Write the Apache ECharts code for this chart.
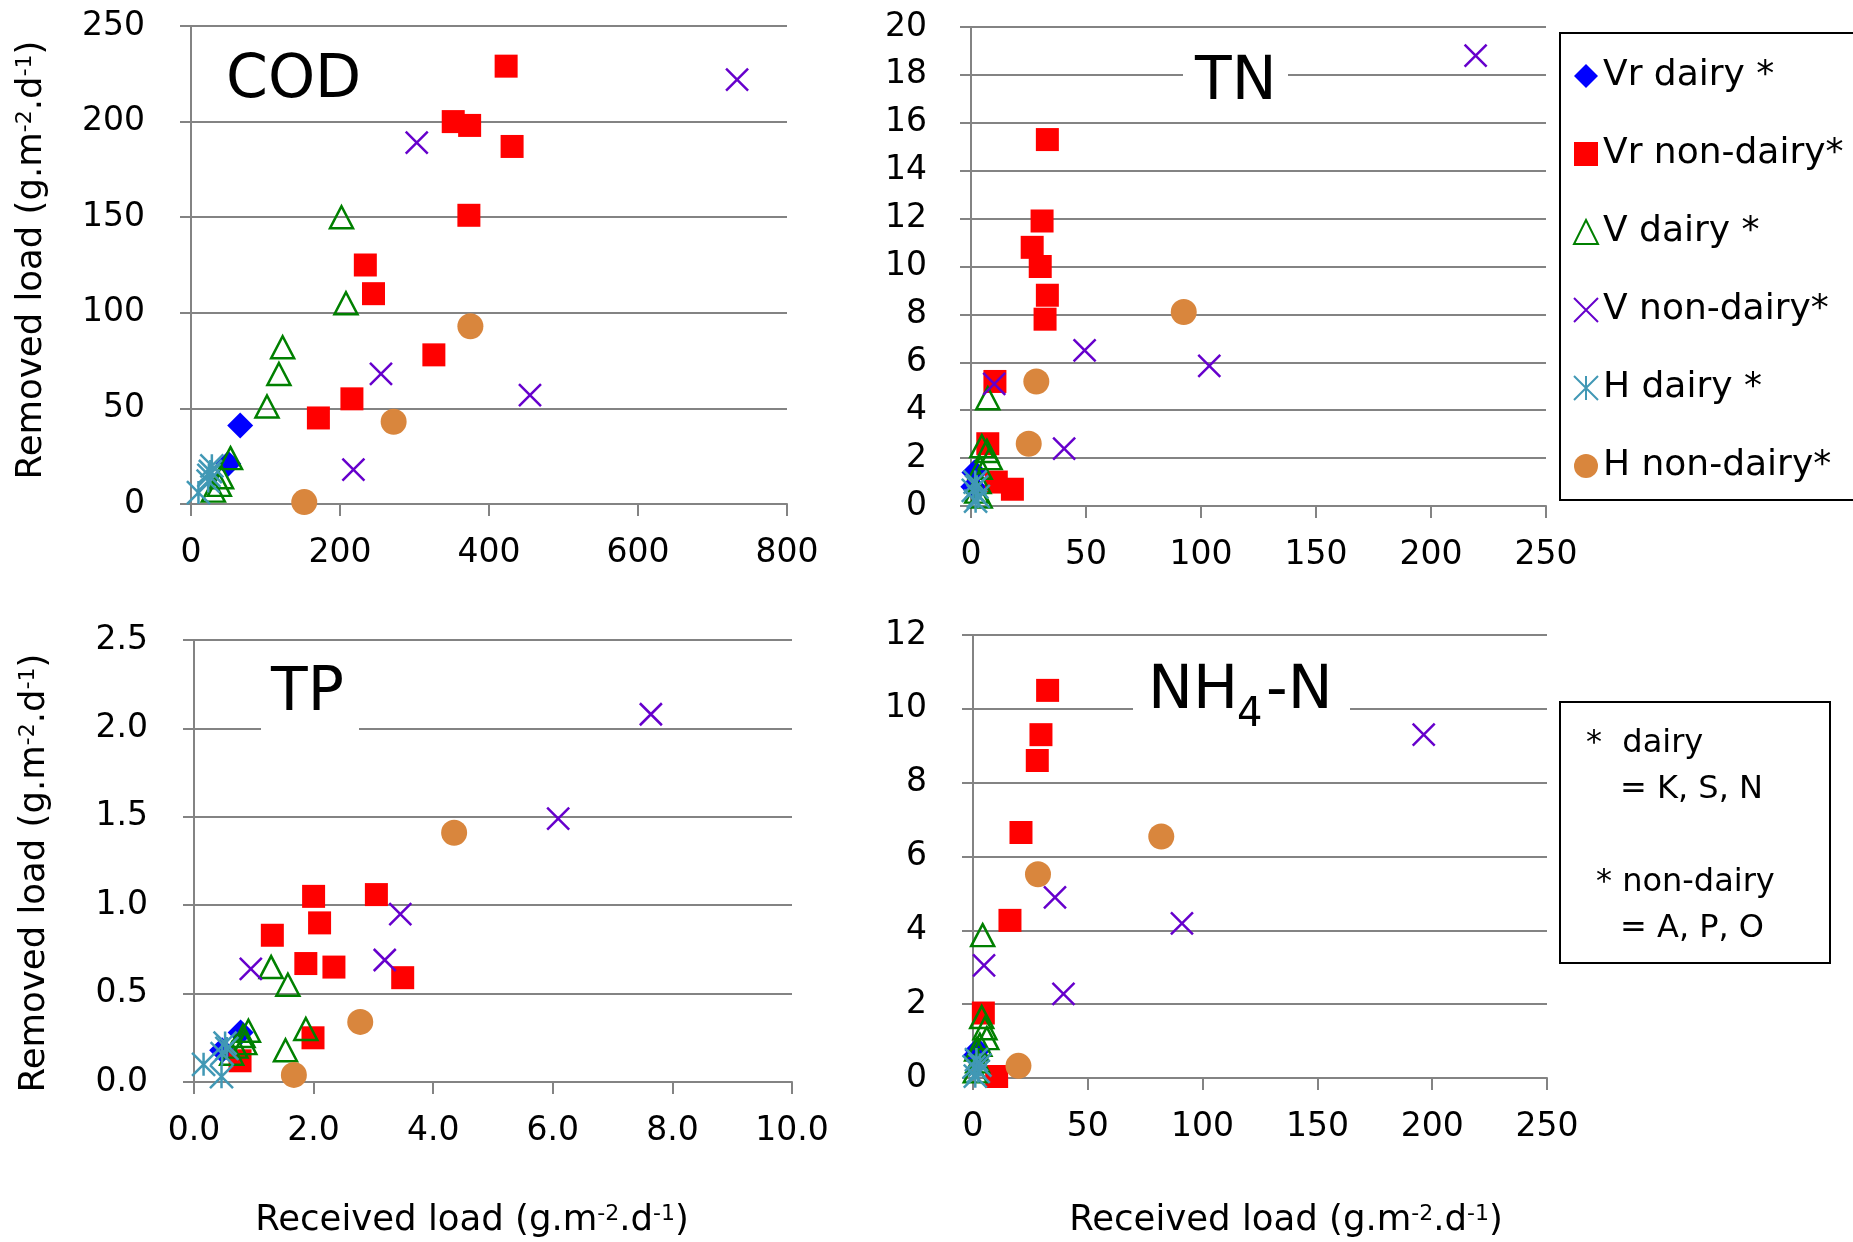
<!DOCTYPE html>
<html><head><meta charset="utf-8">
<script src="https://cdn.jsdelivr.net/npm/echarts@6/dist/echarts.min.js"></script>
<style>html,body{margin:0;padding:0;background:#fff}#c{width:1853px;height:1242px}</style>
</head><body><div id="c"></div>
<script>
// ---------- data ----------
const seriesNames = ['Vr dairy *', 'Vr non-dairy*', 'V dairy *', 'V non-dairy*', 'H dairy *', 'H non-dairy*'];

// COD
const codVrDairy = [[66,41],[50,21]];
const codVrNonDairy = [[423,229],[352,200],[374,198],[431,187],[373,151],[234,125],[245,110],[326,78],[216,55],[171,45]];
const codVDairy = [[202,150],[208,105],[123,82],[118,68],[102,51],[53,24],[41,14],[38,10],[30,7]];
const codVNonDairy = [[733,222],[303,189],[255,68],[455,57],[218,18]];
const codHDairy = [[10,6],[23,12],[24,15],[28,20],[26,17]];
const codHNonDairy = [[375,93],[272,43],[152,1]];

// TN
const tnVrDairy = [[1.5,1.4],[1,0.8]];
const tnVrNonDairy = [[33.2,15.3],[30.9,11.9],[26.6,10.8],[30.1,10],[33.2,8.8],[32.2,7.8],[10.4,5.2],[7.3,2.6],[11,1.0],[18,0.7]];
const tnVDairy = [[7.3,4.5],[4.7,2.5],[6.9,2.3],[8.3,2.0],[4,0.4],[3.5,1.0],[2.5,0.6],[4,1.6]];
const tnVNonDairy = [[219.4,18.8],[49.4,6.5],[103.6,5.85],[40.5,2.4],[10.1,5.1]];
const tnHDairy = [[1.8,1.0],[1,0.65],[2.5,0.8],[3.2,0.4],[2,0.2]];
const tnHNonDairy = [[92.5,8.1],[28.4,5.2],[25.1,2.6]];

// TP
const tpVrDairy = [[0.78,0.28],[0.47,0.18]];
const tpVrNonDairy = [[2.0,1.05],[3.05,1.06],[2.1,0.9],[1.31,0.83],[1.87,0.67],[2.34,0.65],[3.49,0.59],[1.99,0.25],[0.77,0.12]];
const tpVDairy = [[1.29,0.65],[1.57,0.55],[1.87,0.3],[1.53,0.18],[0.91,0.29],[0.82,0.26],[0.85,0.22],[0.63,0.16],[0.7,0.2]];
const tpVNonDairy = [[7.64,2.08],[6.09,1.49],[3.45,0.95],[3.19,0.69],[0.95,0.64]];
const tpHDairy = [[0.16,0.1],[0.46,0.03],[0.52,0.22],[0.47,0.16],[0.55,0.19]];
const tpHNonDairy = [[4.35,1.41],[2.78,0.34],[1.67,0.04]];

// NH4-N
const nhVrDairy = [[1,0.6],[2,0.75]];
const nhVrNonDairy = [[32.5,10.5],[29.6,9.3],[28,8.6],[20.9,6.65],[16.1,4.27],[4.5,1.76],[10.3,0.04]];
const nhVDairy = [[4.2,3.87],[3.8,1.65],[5.2,1.35],[6,1.08],[1.6,0.77],[2,0.45],[1,0.18],[3,0.9]];
const nhVNonDairy = [[196.3,9.3],[35.7,4.89],[91,4.19],[4.8,3.05],[39.4,2.28]];
const nhHDairy = [[0.5,0.3],[2.3,0.18],[1,0.05],[3,0.35],[1.5,0.5]];
const nhHNonDairy = [[82,6.54],[28.3,5.52],[19.8,0.33]];

// axis ticks
const codXTicks = [0,200,400,600,800];
const codYTicks = [0,50,100,150,200,250];
const tnXTicks = [0,50,100,150,200,250];
const tnYTicks = [0,2,4,6,8,10,12,14,16,18,20];
const tpXTicks = [0,2,4,6,8,10];
const tpYTicks = [0,0.5,1,1.5,2,2.5];
const nhXTicks = [0,50,100,150,200,250];
const nhYTicks = [0,2,4,6,8,10,12];

const panelData = [
  [codVrDairy, codVrNonDairy, codVDairy, codVNonDairy, codHDairy, codHNonDairy],
  [tnVrDairy, tnVrNonDairy, tnVDairy, tnVNonDairy, tnHDairy, tnHNonDairy],
  [tpVrDairy, tpVrNonDairy, tpVDairy, tpVNonDairy, tpHDairy, tpHNonDairy],
  [nhVrDairy, nhVrNonDairy, nhVDairy, nhVNonDairy, nhHDairy, nhHNonDairy]
];
const panelXTicks = [codXTicks, tnXTicks, tpXTicks, nhXTicks];
const panelYTicks = [codYTicks, tnYTicks, tpYTicks, nhYTicks];
const panelDecimals = [0, 0, 1, 0];

// ---------- style ----------
const FONT = 'DejaVu Sans';
const GRIDC = '#838383';
const X_PATH = 'path://M0,0L20,20M20,0L0,20';
const STAR_PATH = 'path://M10,0L10,20M0,0L20,20M20,0L0,20';

const seriesStyles = [
  {symbol:'diamond', symbolSize:26, itemStyle:{color:'#0000FF', opacity:1}},
  {symbol:'rect', symbolSize:23, itemStyle:{color:'#FF0000', opacity:1}},
  {symbol:'triangle', symbolSize:[23,22], itemStyle:{color:'rgba(0,0,0,0)', borderColor:'#008000', borderWidth:2.5, opacity:1}},
  {symbol:X_PATH, symbolSize:22, itemStyle:{color:'rgba(0,0,0,0)', borderColor:'#6600CC', borderWidth:2.5, opacity:1}},
  {symbol:STAR_PATH, symbolSize:23, itemStyle:{color:'rgba(0,0,0,0)', borderColor:'#4198B5', borderWidth:2.5, opacity:1}},
  {symbol:'circle', symbolSize:26, itemStyle:{color:'#D9863D', opacity:1}}
];

const grids = [
  {left:191, top:26, width:596, height:478},
  {left:971, top:27, width:575, height:479},
  {left:194, top:640, width:598, height:442},
  {left:973, top:635, width:574, height:443}
].map(g => Object.assign({outerBoundsMode:'none', containLabel:false}, g));

const nameRich = {sup:{fontSize:22, fontFamily:FONT, color:'#000', verticalAlign:'top'}};
const axisNameText = 'load (g.m{sup|-2}.d{sup|-1})';

function fmt(dec){ return v => dec ? v.toFixed(dec) : String(v); }

const xAxes = panelXTicks.map((t, i) => ({
  type:'value', gridIndex:i, min:t[0], max:t[t.length-1], interval:t[1]-t[0],
  axisLine:{show:true, onZero:false, lineStyle:{color:GRIDC, width:2}},
  axisTick:{show:true, length:12, lineStyle:{color:GRIDC, width:2}},
  splitLine:{show:false},
  axisLabel:{fontFamily:FONT, fontSize:33, color:'#000', margin:33, formatter:fmt(panelDecimals[i])},
  name: (i >= 2) ? 'Received ' + axisNameText : '',
  nameLocation:'middle', nameGap: i===2 ? 121 : 125, nameMoveOverlap:false,
  nameTextStyle:{fontFamily:FONT, fontSize:35.5, color:'#000', rich:nameRich,
    padding: i===2 ? [0,42,0,0] : [0,0,0,52]}
}));

const yAxes = panelYTicks.map((t, i) => ({
  type:'value', gridIndex:i, min:t[0], max:t[t.length-1], interval:t[1]-t[0],
  axisLine:{show:true, lineStyle:{color:GRIDC, width:2}},
  axisTick:{show:true, length:11, lineStyle:{color:GRIDC, width:2}},
  splitLine:{show:true, lineStyle:{color:GRIDC, width:2}},
  axisLabel:{fontFamily:FONT, fontSize:33, color:'#000', margin: i===1 ? 44 : 46, formatter:fmt(panelDecimals[i])},
  name: (i % 2 === 0) ? 'Removed ' + axisNameText : '',
  nameLocation:'middle', nameRotate:90, nameGap:141, nameMoveOverlap:false,
  nameTextStyle:{fontFamily:FONT, fontSize:35.5, color:'#000', rich:nameRich,
    padding: i===0 ? [0,0,0,10] : [0,24,0,0]}
}));

const series = [];
panelData.forEach((arrs, p) => {
  arrs.forEach((d, s) => {
    series.push(Object.assign({
      type:'scatter', name:seriesNames[s], xAxisIndex:p, yAxisIndex:p, data:d,
      emphasis:{disabled:true}
    }, JSON.parse(JSON.stringify(seriesStyles[s]))));
  });
});

const txt = (x, y, text, size, extra) => Object.assign({
  type:'text', x:x, y:y, z:20,
  style:Object.assign({text:text, fontFamily:FONT, fontSize:size, fill:'#000', align:'left', verticalAlign:'middle'}, extra || {})
});
const whiteRect = (x, y, w, h) => ({type:'rect', z:19, shape:{x:x, y:y, width:w, height:h}, style:{fill:'#fff'}});
const boxRect = (x, y, w, h) => ({type:'rect', z:5, shape:{x:x, y:y, width:w, height:h}, style:{fill:'none', stroke:'#000', lineWidth:2}});

const graphics = [
  boxRect(1560, 33, 320, 467),
  boxRect(1560, 702, 270, 261),
  txt(1586, 744, '*  dairy', 32),
  txt(1620, 790, '= K, S, N', 32),
  txt(1596, 883, '* non-dairy', 32),
  txt(1620, 929, '= A, P, O', 32),
  txt(226, 81, 'COD', 60),
  whiteRect(1183, 45, 105, 60),
  txt(1195, 83, 'TN', 60),
  whiteRect(261, 650, 98, 85),
  txt(271, 694, 'TP', 60),
  whiteRect(1133, 655, 217, 75),
  txt(1148, 692, 'NH', 60),
  txt(1237, 716, '4', 40),
  txt(1266, 692, '-N', 60)
];

const option = {
  animation:false,
  backgroundColor:'#fff',
  grid:grids,
  xAxis:xAxes,
  yAxis:yAxes,
  legend:{
    orient:'vertical', left:1573, top:58, padding:0,
    itemWidth:24, itemHeight:24, itemGap:42,
    textStyle:{fontFamily:FONT, fontSize:36, color:'#000', lineHeight:36},
    data:seriesNames, selectedMode:false
  },
  series:series,
  graphic:graphics
};
const chart = echarts.init(document.getElementById('c'), null, {renderer:'canvas'});
chart.setOption(option);
</script></body></html>
